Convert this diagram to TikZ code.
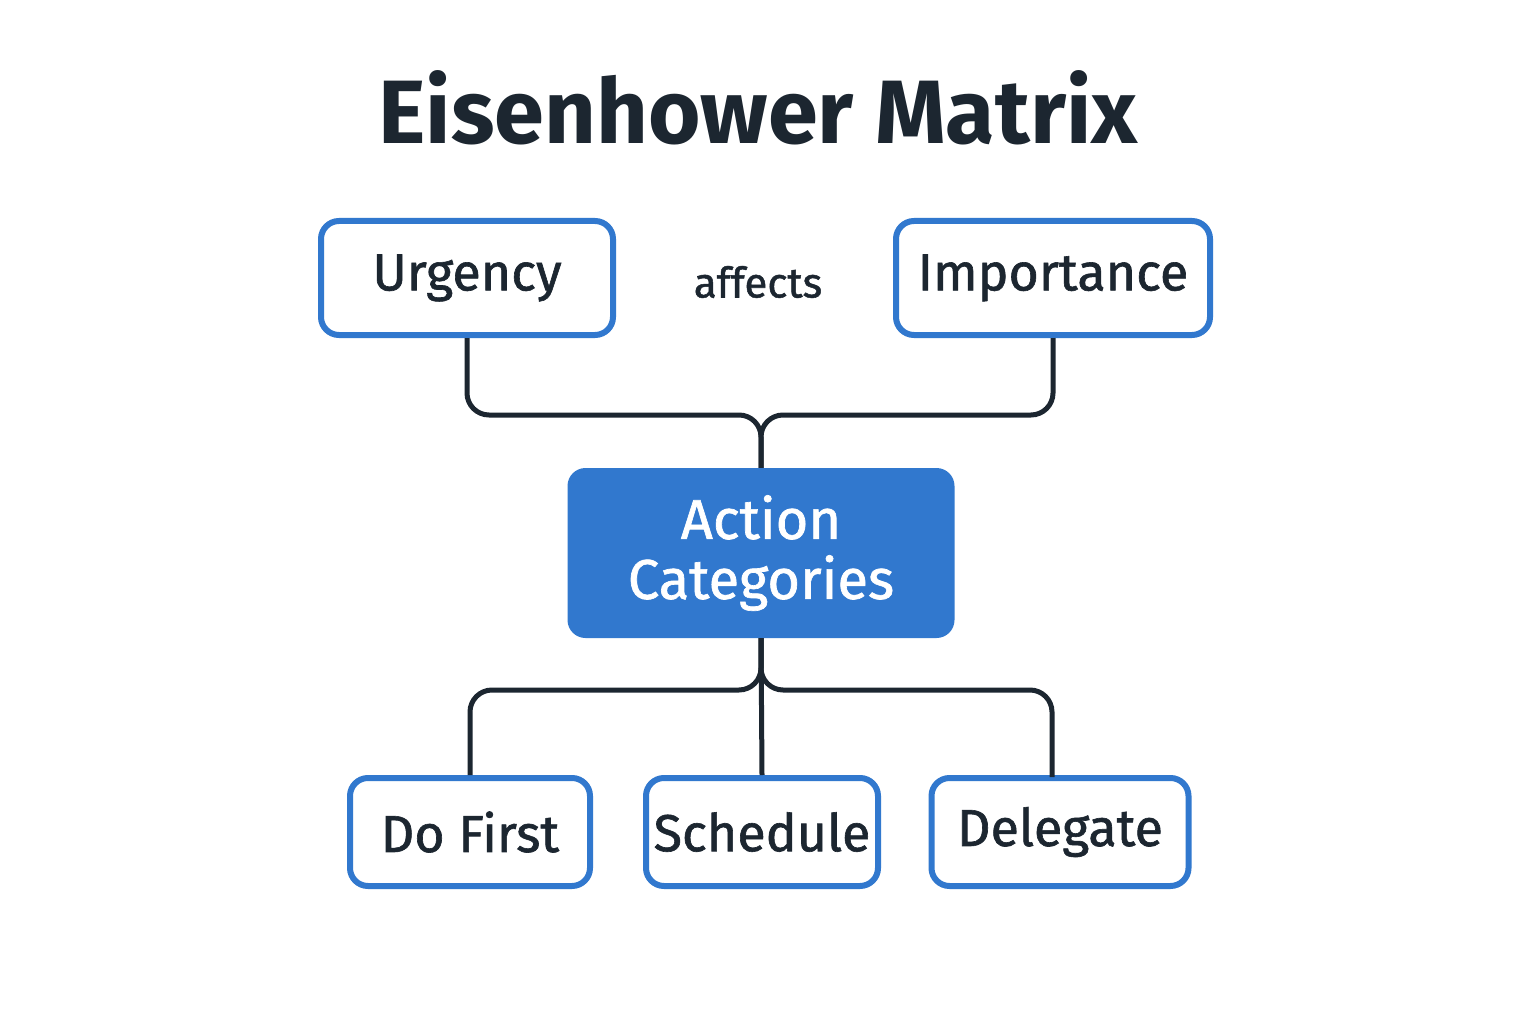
\documentclass[tikz,border=0pt]{standalone}
\usepackage{fontspec}
\setmainfont{Fira Sans}
\newfontfamily\medf{Fira Sans}[BoldFont=Fira Sans,AutoFakeBold=1.2]
\begin{document}
\begin{tikzpicture}[x=1pt,y=-1pt,
  box/.style={draw=blue1,line width=6pt,rounded corners=18pt,fill=white,text=ink,font=\medf\bfseries\fontsize{52}{58}\selectfont,inner sep=0pt},
  conn/.style={draw=ink,line width=5pt,rounded corners=22pt}]
\definecolor{blue1}{HTML}{3178CE}
\definecolor{ink}{HTML}{1C2630}
\useasboundingbox[fill=white] (0,0) rectangle (1536,1024);
\node[text=ink,font=\fontsize{90}{96}\selectfont\bfseries] (title) at (758,108) {Eisenhower Matrix};
\node[box,minimum width=292pt,minimum height=114pt] (U) at (467,278) {Urgency};
\node[box,minimum width=314pt,minimum height=114pt] (I) at (1053,278) {Importance};
\node[text=ink,font=\medf\bfseries\fontsize{42}{48}\selectfont] (aff) at (758,282) {affects};
\node[fill=blue1,rounded corners=18pt,minimum width=387pt,minimum height=170pt,text=white,align=center,font=\medf\bfseries\fontsize{56}{60}\selectfont,inner sep=0pt] (A) at (761,553) {Action\\Categories};
\node[box,minimum width=240pt,minimum height=108pt] (D) at (470,832) {Do First};
\node[box,minimum width=232pt,minimum height=108pt] (S) at (762,832) {Schedule};
\node[box,minimum width=257pt,minimum height=108pt] (G) at (1060,832) {Delegate};
\draw[conn] (U.south) -- (467,415) -- (761,415) -- (A.north);
\draw[conn] (I.south) -- (1053,415) -- (761,415) -- (A.north);
\draw[conn] (A.south) -- (761,690) -- (470,690) -- (D.north);
\draw[conn] (A.south) -- (S.north);
\draw[conn] (A.south) -- (761,690) -- (1052,690) -- (1052,777);
\end{tikzpicture}
\end{document}
